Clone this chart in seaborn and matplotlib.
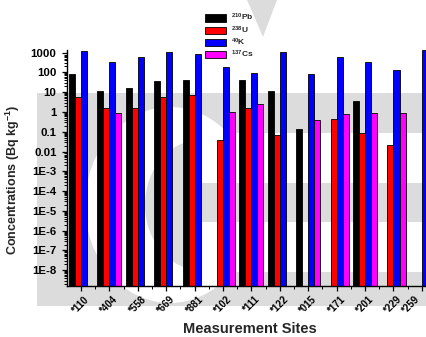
import numpy as np
import pandas as pd
import seaborn as sns
import matplotlib
matplotlib.use("Agg")
import matplotlib.pyplot as plt
from matplotlib.patches import Rectangle, Ellipse, Polygon
from matplotlib.ticker import FixedLocator, FixedFormatter, LogLocator, NullFormatter, MultipleLocator

nan = np.nan
sites = ['*110', '*404', '*558', '*669', '*881', '*102', '*111', '*122',
         '*015', '*171', '*201', '*229', '*259']
pb210 = [83, 12, 16, 38, 43, nan, 41, 11.5, 0.13, nan, 3.7, nan, nan]
u238 = [5.5, 1.5, 1.5, 5.5, 7.0, 0.037, 1.5, 0.069, nan, 0.43, 0.09, 0.022, nan]
k40 = [1170, 320, 620, 1030, 880, 195, 90, 1030, 83, 600, 320, 130, 1300]
cs137 = [nan, 0.9, nan, nan, nan, 0.96, 2.45, nan, 0.39, 0.76, 0.86, 0.89, nan]
isotopes = [r'$^{210}$Pb', r'$^{238}$U', r'$^{40}$K', r'$^{137}$Cs']
colors = ['#000000', '#ff0000', '#0000ff', '#ff00ff']
ytick_vals = [1e3, 1e2, 1e1, 1, 0.1, 0.01, 1e-3, 1e-4, 1e-5, 1e-6, 1e-7, 1e-8]
ytick_labels = ['1000', '100', '10', '1', '0.1', '0.01', '1E-3', '1E-4',
                '1E-5', '1E-6', '1E-7', '1E-8']

rows = []
for s, a, b, c, d in zip(sites, pb210, u238, k40, cs137):
    for iso, v in zip(isotopes, [a, b, c, d]):
        rows.append({'site': s, 'isotope': iso, 'value': v})
df = pd.DataFrame(rows)

sns.set_style("white")
plt.rcParams['font.family'] = ['Liberation Sans', 'DejaVu Sans']
plt.rcParams['font.weight'] = 'bold'
plt.rcParams['mathtext.fontset'] = 'custom'
plt.rcParams['mathtext.rm'] = 'Liberation Sans:bold'
plt.rcParams['mathtext.it'] = 'Liberation Sans:bold'
plt.rcParams['mathtext.bf'] = 'Liberation Sans:bold'
plt.rcParams['mathtext.default'] = 'rm'

W, H = 427, 337
fig = plt.figure(figsize=(W / 100, H / 100), dpi=100)

# watermark (light gray shapes behind the chart)
wm = '#dcdcdc'
def rect(x0, y0, x1, y1, color):
    return Rectangle((x0 / W, 1 - y1 / H), (x1 - x0) / W, (y1 - y0) / H,
                     transform=fig.transFigure, facecolor=color, edgecolor='none', zorder=-5)
def ell(cx, cy, rx, ry, color):
    return Ellipse((cx / W, 1 - cy / H), 2 * rx / W, 2 * ry / H,
                   transform=fig.transFigure, facecolor=color, edgecolor='none', zorder=-5)
fig.patches.extend([
    rect(37, 93, 427, 306, wm),
    ell(170, 205, 85, 98, 'white'),
    ell(200, 205, 55, 65, wm),
    rect(190, 133, 427, 183, 'white'),
    rect(200, 222, 427, 272, 'white'),
    Polygon([(247 / W, 1.0), (277 / W, 1.0), (263 / W, 1 - 37 / H)], closed=True,
            transform=fig.transFigure, facecolor=wm, edgecolor='none', zorder=-5),
])

ax = fig.add_axes([67 / W, 1 - 286 / H, (W - 67) / W, (286 - 49.7) / H])
ax.set_facecolor('none')

sns.barplot(data=df, x='site', y='value', hue='isotope', order=sites,
            hue_order=isotopes, palette=colors, saturation=1, width=0.85,
            errorbar=None, edgecolor='black', linewidth=0.6, legend=True, ax=ax)

ax.set_yscale('log')
ax.set_ylim(1.6e-9, 1400)
ax.set_xlim(-0.49, 12.18)

ax.yaxis.set_major_locator(FixedLocator(ytick_vals))
ax.yaxis.set_major_formatter(FixedFormatter(ytick_labels))
ax.yaxis.set_minor_locator(LogLocator(base=10, subs=np.arange(2, 10), numticks=100))
ax.yaxis.set_minor_formatter(NullFormatter())
ax.xaxis.set_minor_locator(MultipleLocator(1, offset=0.5))

for side in ['top', 'right']:
    ax.spines[side].set_visible(False)
for side in ['left', 'bottom']:
    ax.spines[side].set_linewidth(1.0)
    ax.spines[side].set_color('black')

ax.tick_params(axis='both', which='major', direction='out', length=3.5, width=0.9,
               colors='black', labelsize=8.2, pad=4)
ax.tick_params(axis='both', which='minor', direction='out', length=2, width=0.7,
               colors='black')
ax.tick_params(axis='x', which='major', labelsize=7, pad=2.5)
ax.tick_params(left=True, bottom=True, which='both')
xl = ax.get_xticklabels()
for i, lab in enumerate(xl):
    lab.set_rotation(45)
    lab.set_fontweight('bold')
    lab.set_horizontalalignment('right' if i == len(xl) - 1 else 'center')
for lab in ax.get_yticklabels():
    lab.set_fontweight('bold')

ax.set_xlabel('Measurement Sites', fontsize=10.5, fontweight='bold')
ax.set_ylabel(r'Concentrations (Bq kg$^{-1}$)', fontsize=9, fontweight='bold')
ax.xaxis.set_label_coords((250 - 67) / (W - 67), -(322 - 286) / (286 - 49.7))
ax.yaxis.set_label_coords(-(67 - 22) / (W - 67), (286 - 180) / (286 - 49.7))

handles, labels = ax.get_legend_handles_labels()
ax.get_legend().remove()
fig.legend(handles, labels, loc='upper left', bbox_to_anchor=(205 / W, 1 - 12 / H),
           bbox_transform=fig.transFigure, frameon=False,
           handlelength=2.5, handleheight=0.95, labelspacing=0.12,
           handletextpad=0.6, borderpad=0, borderaxespad=0,
           prop={'weight': 'bold', 'size': 6})

fig.savefig('out.png', dpi=100)
